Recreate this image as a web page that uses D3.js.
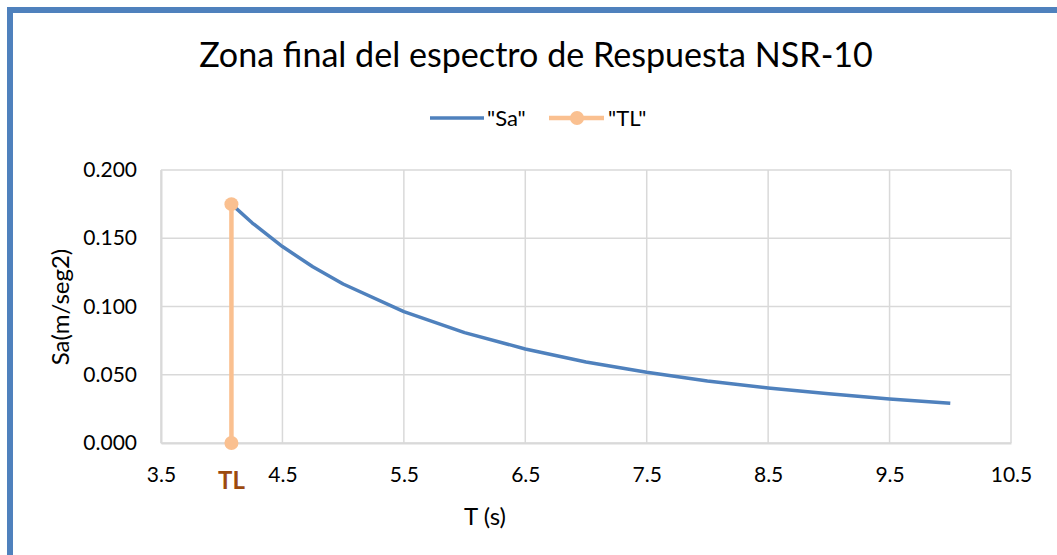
<!DOCTYPE html>
<html><head><meta charset="utf-8">
<script src="https://cdn.jsdelivr.net/npm/d3@7"></script>
<style>body{margin:0;background:#fff}svg{display:block}text{font-family:Lato,"Open Sans",sans-serif}</style>
</head><body><div id="c"></div>
<script>
const periods = [4.08, 4.25, 4.5, 4.75, 5, 5.5, 6, 6.5, 7, 7.5, 8, 8.5, 9, 9.5, 10];
const saValues = [0.175, 0.1613, 0.1439, 0.1291, 0.1165, 0.0963, 0.0809, 0.0689, 0.0594, 0.0518, 0.0455, 0.0403, 0.0360, 0.0323, 0.0291];
const tlX = [4.08, 4.08];
const tlY = [0.175, 0];
const xTicks = [3.5, 4.5, 5.5, 6.5, 7.5, 8.5, 9.5, 10.5];
const yTicks = [0, 0.05, 0.1, 0.15, 0.2];
const title = "Zona final del espectro de Respuesta NSR-10";
const seriesNames = ['"Sa"', '"TL"'];
const xLabel = "T (s)", yLabel = "Sa(m/seg2)", tlLabel = "TL";

const W = 1057, H = 555;
const m = {l:161, r:1011, t:170, b:443};
const blue = "#4F81BD", orange = "#FAC090", grid = "#D9D9D9";

const svg = d3.select("#c").append("svg").attr("width", W).attr("height", H);
svg.append("rect").attr("width", W).attr("height", H).attr("fill", "#fff");
svg.append("rect").attr("x", 10).attr("y", 10).attr("width", W + 20).attr("height", H + 20)
  .attr("fill", "none").attr("stroke", blue).attr("stroke-width", 6);

const x = d3.scaleLinear().domain([3.5, 10.5]).range([m.l, m.r]);
const y = d3.scaleLinear().domain([0, 0.2]).range([m.b, m.t]);

const g = svg.append("g");
g.selectAll(".vg").data(xTicks).join("line")
  .attr("x1", d => x(d)).attr("x2", d => x(d)).attr("y1", m.t).attr("y2", m.b)
  .attr("stroke", grid).attr("stroke-width", 1.5);
g.selectAll(".hg").data(yTicks).join("line")
  .attr("x1", m.l).attr("x2", m.r).attr("y1", d => y(d)).attr("y2", d => y(d))
  .attr("stroke", grid).attr("stroke-width", 1.5);

const xAxis = svg.append("g").attr("transform", `translate(0,${m.b})`)
  .call(d3.axisBottom(x).tickValues(xTicks).tickFormat(d3.format(".1f")).tickSize(0).tickPadding(24));
xAxis.select(".domain").attr("stroke", grid).attr("stroke-width", 2);
xAxis.selectAll("text").attr("font-size", 21).attr("fill", "#000");
const yAxis = svg.append("g").attr("transform", `translate(${m.l},0)`)
  .call(d3.axisLeft(y).tickValues(yTicks).tickFormat(d3.format(".3f")).tickSize(0).tickPadding(24));
yAxis.select(".domain").attr("stroke", grid).attr("stroke-width", 2);
yAxis.selectAll("text").attr("font-size", 21).attr("fill", "#000");

const pts = periods.map((t, i) => [t, saValues[i]]);
svg.append("path").datum(pts)
  .attr("d", d3.line().x(d => x(d[0])).y(d => y(d[1])))
  .attr("fill", "none").attr("stroke", blue).attr("stroke-width", 3.5).attr("stroke-linejoin", "round");

const tl = tlX.map((t, i) => [t, tlY[i]]);
svg.append("path").datum(tl)
  .attr("d", d3.line().x(d => x(d[0])).y(d => y(d[1])))
  .attr("fill", "none").attr("stroke", orange).attr("stroke-width", 4.5);
svg.selectAll(".tlm").data(tl).join("circle")
  .attr("cx", d => x(d[0])).attr("cy", d => y(d[1])).attr("r", 7).attr("fill", orange);

svg.append("text").attr("x", x(tlX[0])).attr("y", 489).attr("text-anchor", "middle")
  .attr("font-size", 24).attr("font-weight", "bold").attr("fill", "#9C4A0E").text(tlLabel);

const tt = svg.append("text").attr("x", 536).attr("y", 67).attr("text-anchor", "middle")
  .attr("font-size", 32).attr("fill", "#000").text(title);
const tw = tt.node().getComputedTextLength();
tt.attr("font-size", 32 * 674 / tw);

svg.append("text").attr("x", 485).attr("y", 525).attr("text-anchor", "middle")
  .attr("font-size", 24).attr("fill", "#000").text(xLabel);
svg.append("text").attr("transform", "translate(69,307) rotate(-90)").attr("text-anchor", "middle")
  .attr("font-size", 24).attr("fill", "#000").text(yLabel);

const lg = svg.append("g");
lg.append("line").attr("x1", 430).attr("x2", 484).attr("y1", 118).attr("y2", 118)
  .attr("stroke", blue).attr("stroke-width", 3.5);
lg.append("text").attr("x", 487).attr("y", 126).attr("font-size", 22).text(seriesNames[0]);
lg.append("line").attr("x1", 549).attr("x2", 604).attr("y1", 118).attr("y2", 118)
  .attr("stroke", orange).attr("stroke-width", 4.5);
lg.append("circle").attr("cx", 577).attr("cy", 118).attr("r", 7).attr("fill", orange);
lg.append("text").attr("x", 608).attr("y", 126).attr("font-size", 22).text(seriesNames[1]);
</script></body></html>
